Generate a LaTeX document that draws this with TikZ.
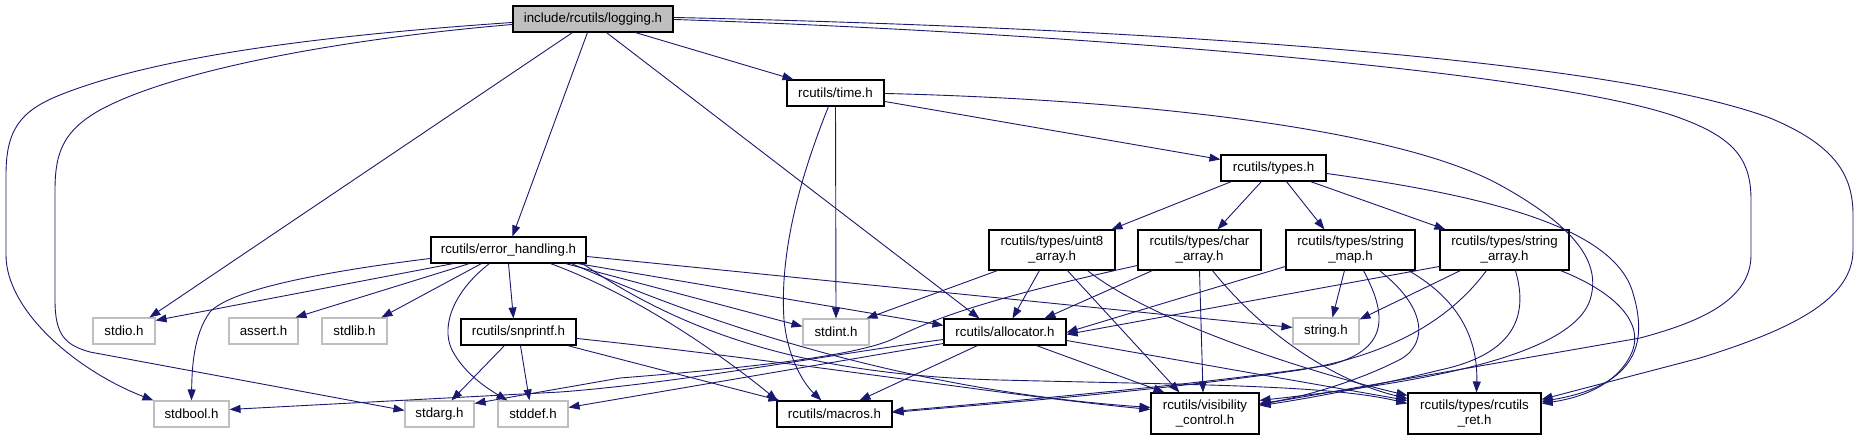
\documentclass[tikz,border=0pt]{standalone}
\usepackage{fontspec}
\setmainfont{Liberation Sans}
\usetikzlibrary{arrows.meta,calc}
\definecolor{edgecol}{HTML}{191970}
\definecolor{sysgray}{HTML}{BFBFBF}
\begin{document}
\begin{tikzpicture}[x=1pt,y=-1pt,
  box/.style={draw=black,line width=1.1pt,fill=white,inner sep=0pt,align=center,
    font=\fontsize{13.3}{15}\selectfont,text=black},
  sysbox/.style={box,draw=sysgray},
  rootbox/.style={box,fill=sysgray},
  wh/.style 2 args={minimum width=#1pt,minimum height=#2pt},
  inc/.style={draw=edgecol,line width=0.9pt,-{Triangle[length=11pt,width=8pt]}},
]
\useasboundingbox (0,0) rectangle (1859,440);
% nodes
\node[rootbox,wh={160}{26}] (logging) at (593,19) {include/rcutils/logging.h};
\node[box,wh={97}{26}] (time) at (835.5,93) {rcutils/time.h};
\node[box,wh={105}{26}] (types) at (1273.5,168) {rcutils/types.h};
\node[box,wh={155}{26}] (err) at (508.5,250) {rcutils/error\_handling.h};
\node[box,wh={126}{40}] (uint8) at (1052,250) {rcutils/types/uint8\\\_array.h};
\node[box,wh={123}{40}] (chara) at (1199.5,250) {rcutils/types/char\\\_array.h};
\node[box,wh={129}{40}] (smap) at (1350.5,250) {rcutils/types/string\\\_map.h};
\node[box,wh={129}{40}] (sarr) at (1504.5,250) {rcutils/types/string\\\_array.h};
\node[sysbox,wh={62}{26}] (stdio) at (124,331) {stdio.h};
\node[sysbox,wh={69}{26}] (assert) at (263.5,331) {assert.h};
\node[sysbox,wh={65}{26}] (stdlib) at (354.5,331) {stdlib.h};
\node[box,wh={115}{26}] (snprintf) at (518.5,332) {rcutils/snprintf.h};
\node[sysbox,wh={66}{26}] (stdint) at (836,332) {stdint.h};
\node[box,wh={122}{26}] (alloc) at (1005,332) {rcutils/allocator.h};
\node[sysbox,wh={66}{26}] (string) at (1326,331) {string.h};
\node[sysbox,wh={75}{26}] (stdbool) at (191.5,414) {stdbool.h};
\node[sysbox,wh={69}{26}] (stdarg) at (439.5,414) {stdarg.h};
\node[sysbox,wh={70}{26}] (stddef) at (533,414) {stddef.h};
\node[box,wh={115}{26}] (macros) at (834.5,414) {rcutils/macros.h};
\node[box,wh={108}{41}] (vis) at (1205,413.5) {rcutils/visibility\\\_control.h};
\node[box,wh={133}{41}] (ret) at (1474.5,413.5) {rcutils/types/rcutils\\\_ret.h};
% logging.h
\draw[inc] ([xshift=123pt]logging.south west) -- ([xshift=7pt]time.north west);
\draw[inc] ([xshift=75pt]logging.south west) -- ([xshift=82pt]err.north west);
\draw[inc] ([xshift=60pt]logging.south west) -- ([xshift=57pt]stdio.north west);
\draw[inc] ([xshift=94pt]logging.south west) -- ([xshift=36pt]alloc.north west);
\draw[inc] ([yshift=-17pt]logging.north west) .. controls (330,35) and (160,55) .. (60,95) .. controls (20,111) and (6,130) .. (6,175) -- (6,255) .. controls (6,310) and (75,370) .. (stdbool.north west);
\draw[inc] ([yshift=-19pt]logging.north west) .. controls (330,40) and (170,72) .. (100,110) .. controls (65,130) and (55,150) .. (55,190) -- (55,300) .. controls (55,335) and (65,345) .. (90,352) -- ([yshift=-10pt]stdarg.north west);
\draw[inc] ([yshift=-14pt]logging.north east) .. controls (1050,32) and (1550,70) .. (1680,118) .. controls (1735,138) and (1751,160) .. (1751,200) -- (1751,255) .. controls (1751,300) and (1700,322) .. (1640,338) -- ([yshift=-12pt]vis.north east);
\draw[inc] ([yshift=-12pt]logging.north east) .. controls (1100,27) and (1600,55) .. (1770,118) .. controls (1835,145) and (1853,175) .. (1853,215) -- (1853,250) .. controls (1853,300) and (1790,330) .. (1700,358) -- ([yshift=-7pt]ret.north east);
% time.h
\draw[inc] ([yshift=-22pt]time.north east) -- ([yshift=-5pt]types.north west);
\draw[inc] ([yshift=-14pt]time.north east) .. controls (1150,100) and (1400,130) .. (1500,185) .. controls (1585,232) and (1600,268) .. (1590,300) .. controls (1570,360) and (1400,385) .. ([yshift=-8pt]vis.north east);
\draw[inc] (time.south) -- (stdint.north);
\draw[inc] ([xshift=42pt]time.south west) .. controls (795,190) and (780,260) .. (784,320) .. controls (788,360) and (805,385) .. ([xshift=45pt]macros.north west);
% types.h
\draw[inc] ([xshift=11pt]types.south west) -- ([xshift=123pt]uint8.north west);
\draw[inc] ([xshift=41pt]types.south west) -- ([xshift=80pt]chara.north west);
\draw[inc] ([xshift=66pt]types.south west) -- ([xshift=39pt]smap.north west);
\draw[inc] ([xshift=90pt]types.south west) -- ([xshift=6pt]sarr.north west);
\draw[inc] ([yshift=-19pt]types.north east) .. controls (1480,195) and (1610,225) .. (1632,290) .. controls (1648,340) and (1640,385) .. ([yshift=-9pt]ret.north east);
% error_handling.h
\draw[inc] ([xshift=23pt]err.south west) -- ([yshift=-3pt]stdio.north east);
\draw[inc] ([yshift=-22pt]err.north west) .. controls (320,272) and (230,290) .. (210,312) .. controls (193,335) and (192,370) .. ([xshift=38pt]stdbool.north west);
\draw[inc] ([xshift=39pt]err.south west) -- ([xshift=67pt]assert.north west);
\draw[inc] ([xshift=51pt]err.south west) -- ([xshift=60pt]stdlib.north west);
\draw[inc] ([xshift=59pt]err.south west) .. controls (455,290) and (440,325) .. (452,350) .. controls (465,375) and (490,390) .. ([xshift=10pt]stddef.north west);
\draw[inc] (err.south) -- ([xshift=53pt]snprintf.north west);
\draw[inc] ([xshift=135pt]err.south west) -- ([yshift=-8pt]stdint.north west);
\draw[inc] ([xshift=147pt]err.south west) -- ([yshift=-7pt]alloc.north west);
\draw[inc] ([yshift=-20pt]err.north east) -- ([yshift=-10pt]string.north west);
\draw[inc] ([xshift=120pt]err.south west) .. controls (650,300) and (740,370) .. ([xshift=1pt]macros.north west);
\draw[inc] ([xshift=141pt]err.south west) .. controls (700,320) and (900,390) .. ([yshift=-15pt]vis.north west);
\draw[inc] ([xshift=152pt]err.south west) .. controls (680,330) and (800,375) .. (1000,380) .. controls (1200,385) and (1330,385) .. ([yshift=-11pt]ret.north west);
% snprintf.h
\draw[inc] ([xshift=44pt]snprintf.south west) -- ([xshift=47pt]stdarg.north west);
\draw[inc] ([xshift=60pt]snprintf.south west) -- ([xshift=32pt]stddef.north west);
\draw[inc] ([xshift=107pt]snprintf.south west) -- ([xshift=3pt]macros.north west);
\draw[inc] ([yshift=-20pt]snprintf.north east) .. controls (800,362) and (1000,395) .. ([yshift=-17pt]vis.north west);
% allocator.h
\draw[inc] ([yshift=-21pt]alloc.north west) .. controls (820,356) and (680,383) .. (560,392) -- ([yshift=-9pt]stdbool.north east);
\draw[inc] ([yshift=-25pt]alloc.north west) -- ([yshift=-7pt]stddef.north east);
\draw[inc] ([xshift=34pt]alloc.south west) -- ([xshift=83pt]macros.north west);
\draw[inc] ([xshift=93pt]alloc.south west) -- ([xshift=14pt]vis.north west);
\draw[inc] ([yshift=-22pt]alloc.north east) -- ([yshift=-8pt]ret.north west);
% uint8_array.h
\draw[inc] ([xshift=9pt]uint8.south west) -- ([xshift=64pt]stdint.north west);
\draw[inc] ([xshift=51pt]uint8.south west) -- ([xshift=69pt]alloc.north west);
\draw[inc] ([xshift=79pt]uint8.south west) -- ([xshift=29pt]vis.north west);
\draw[inc] ([xshift=99pt]uint8.south west) .. controls (1150,320) and (1300,370) .. ([yshift=-3pt]ret.north west);
% char_array.h
\draw[inc] ([yshift=-36pt]chara.north west) .. controls (990,298) and (935,318) .. (895,338) .. controls (855,358) and (720,370) .. (620,378) -- ([yshift=-3pt]stdarg.north east);
\draw[inc] ([xshift=15pt]chara.south west) -- ([xshift=101pt]alloc.north west);
\draw[inc] (chara.south) -- ([xshift=-2pt]vis.north);
\draw[inc] ([xshift=75pt]chara.south west) .. controls (1260,330) and (1330,380) .. ([yshift=-6pt]ret.north west);
% string_map.h
\draw[inc] ([yshift=-37pt]smap.north west) -- ([yshift=-14pt]alloc.north east);
\draw[inc] ([xshift=59pt]smap.south west) -- ([xshift=40pt]string.north west);
\draw[inc] ([xshift=78pt]smap.south west) .. controls (1390,320) and (1385,350) .. (1330,365) .. controls (1200,385) and (1000,402) .. ([yshift=-11pt]macros.north east);
\draw[inc] ([xshift=94pt]smap.south west) .. controls (1430,310) and (1428,348) .. (1395,362) .. controls (1355,382) and (1300,398) .. ([yshift=-11pt]vis.north east);
\draw[inc] ([xshift=123pt]smap.south west) .. controls (1460,300) and (1478,340) .. ([xshift=69pt]ret.north west);
% string_array.h
\draw[inc] ([yshift=-37pt]sarr.north west) -- ([yshift=-16pt]alloc.north east);
\draw[inc] ([xshift=21pt]sarr.south west) -- ([yshift=-2pt]string.north east);
\draw[inc] ([xshift=47pt]sarr.south west) .. controls (1450,320) and (1390,355) .. (1300,370) .. controls (1150,392) and (1000,403) .. ([yshift=-12pt]macros.north east);
\draw[inc] ([xshift=76pt]sarr.south west) .. controls (1530,320) and (1510,355) .. (1440,370) .. controls (1380,385) and (1300,400) .. ([yshift=-13pt]vis.north east);
\draw[inc] ([xshift=121pt]sarr.south west) .. controls (1610,290) and (1645,320) .. (1632,352) .. controls (1618,385) and (1580,398) .. ([yshift=-11pt]ret.north east);
\end{tikzpicture}
\end{document}
